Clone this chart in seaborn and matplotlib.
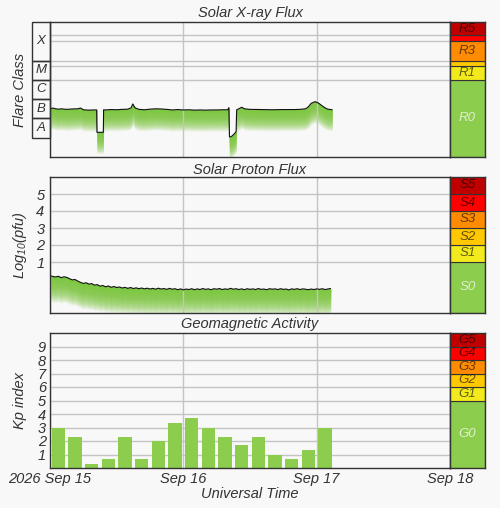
import numpy as np
import pandas as pd
import matplotlib
matplotlib.use("Agg")
import matplotlib.pyplot as plt
from matplotlib.patches import Rectangle
from matplotlib.ticker import NullLocator
import seaborn as sns

# ---------------- data ----------------
xray_hours = [0, 0.5, 1, 1.5, 2, 3, 4, 5, 5.5, 6, 7, 8, 8.4, 8.45, 9.6, 9.65, 10, 11, 12, 13,
              14, 14.6, 14.9, 15.3, 16, 17, 18, 19, 20, 21, 22, 23, 24, 25, 26, 27, 28, 29,
              30, 31, 32, 32.2, 32.3, 32.6, 33.0, 33.5, 33.6, 34, 34.5, 35, 36, 38, 40, 42,
              44, 45, 46, 46.5, 47, 47.7, 48.3, 49, 49.5, 50, 50.8]
xray_log_flux = [-6.52, -6.46, -6.50, -6.52, -6.50, -6.53, -6.51, -6.50, -6.46, -6.55, -6.57,
                 -6.56, -6.56, -7.72, -7.72, -6.55, -6.56, -6.54, -6.55, -6.53, -6.52, -6.45,
                 -6.25, -6.45, -6.53, -6.55, -6.52, -6.50, -6.51, -6.53, -6.56, -6.54, -6.56,
                 -6.55, -6.57, -6.56, -6.57, -6.56, -6.56, -6.55, -6.55, -6.44, -7.95, -7.95,
                 -7.85, -7.69, -6.55, -6.50, -6.42, -6.50, -6.53, -6.54, -6.55, -6.54, -6.54,
                 -6.53, -6.50, -6.40, -6.22, -6.13, -6.20, -6.35, -6.45, -6.52, -6.55]
xray_flux = [10 ** v for v in xray_log_flux]  # W/m^2

proton_hours = [i * 0.5 for i in range(102)]
proton_log = [0.20, 0.15, 0.12, 0.16, 0.08, 0.13, 0.10, 0.02, -0.05, -0.03, -0.12, -0.20,
              -0.26, -0.22, -0.30, -0.27, -0.36, -0.33, -0.42, -0.38, -0.46, -0.41, -0.49,
              -0.44, -0.50, -0.47, -0.53, -0.49, -0.55, -0.50, -0.56, -0.52, -0.57, -0.53,
              -0.58, -0.54, -0.59, -0.55, -0.60, -0.54, -0.59, -0.56, -0.61, -0.55, -0.60,
              -0.57, -0.63, -0.58, -0.64, -0.59, -0.62, -0.57, -0.63, -0.58, -0.62, -0.56,
              -0.61, -0.58, -0.63, -0.57, -0.60, -0.56, -0.62, -0.58, -0.61, -0.55, -0.60,
              -0.57, -0.62, -0.58, -0.63, -0.57, -0.61, -0.58, -0.62, -0.56, -0.61, -0.59,
              -0.63, -0.57, -0.60, -0.58, -0.62, -0.57, -0.61, -0.59, -0.64, -0.58, -0.61,
              -0.57, -0.62, -0.58, -0.60, -0.63, -0.59, -0.62, -0.58, -0.61, -0.57, -0.62,
              -0.59, -0.56]

kp_hours = [1.5, 4.5, 7.5, 10.5, 13.5, 16.5, 19.5, 22.5, 25.5, 28.5, 31.5, 34.5, 37.5,
            40.5, 43.5, 46.5, 49.5]
kp_values = [3.0, 2.33, 0.33, 0.67, 2.33, 0.67, 2.0, 3.33, 3.67, 3.0, 2.33, 1.67, 2.33,
             1.0, 0.67, 1.33, 3.0]

day_ticks = [0, 24, 48, 72]
day_labels = ["2026 Sep 15", "Sep 16", "Sep 17", "Sep 18"]

flare_classes = ["A", "B", "C", "M", "X"]
flare_bounds = [1e-8, 1e-7, 1e-6, 1e-5, 1e-4, 1e-2]

r_labels = ["R0", "R1", "", "R3", "", "R5"]
r_bounds = [1e-9, 1e-5, 5e-5, 1e-4, 1e-3, 2e-3, 1e-2]
s_labels = ["S0", "S1", "S2", "S3", "S4", "S5"]
s_bounds = [-2, 1, 2, 3, 4, 5, 6]
g_labels = ["G0", "G1", "G2", "G3", "G4", "G5"]
g_bounds = [0, 5, 6, 7, 8, 9, 10]
scale_colors = ["#8dcd4e", "#f2ea1c", "#ffc800", "#ff8c00", "#ff0000", "#c00000"]

titles = ["Solar X-ray Flux", "Solar Proton Flux", "Geomagnetic Activity"]

# ---------------- style ----------------
sns.set_theme(style="white")
BG = "#f8f8f8"
GREEN = "#7cc83c"
TXT = "#333333"
plt.rcParams["font.family"] = ["Liberation Sans", "DejaVu Sans"]
plt.rcParams["font.style"] = "italic"
plt.rcParams["mathtext.fontset"] = "custom"
plt.rcParams["mathtext.it"] = "Liberation Sans:italic"
plt.rcParams["mathtext.rm"] = "Liberation Sans:italic"
plt.rcParams["mathtext.default"] = "it"

fig = plt.figure(figsize=(5.0, 5.08), dpi=100, facecolor=BG)
W, H = 500.0, 508.0


def fig_rect(x0, x1, ytop, ybot):
    return [x0 / W, 1 - ybot / H, (x1 - x0) / W, (ybot - ytop) / H]


ax1 = fig.add_axes(fig_rect(50, 450, 22, 157))
sc1 = fig.add_axes(fig_rect(450, 485, 22, 157))
lb1 = fig.add_axes(fig_rect(32, 50, 22, 157))
ax2 = fig.add_axes(fig_rect(50, 450, 177, 313))
sc2 = fig.add_axes(fig_rect(450, 485, 177, 313))
ax3 = fig.add_axes(fig_rect(50, 450, 333, 468))
sc3 = fig.add_axes(fig_rect(450, 485, 333, 468))


def style_main(ax):
    ax.set_facecolor(BG)
    for s in ax.spines.values():
        s.set_color(TXT)
        s.set_linewidth(1.0)
        s.set_zorder(5)
    ax.set_xlim(0, 72)
    ax.set_xticks(day_ticks)
    ax.tick_params(axis="both", length=0, labelsize=10.5, colors=TXT)
    ax.grid(True, axis="both", color="#c4c4c4", lw=1.0, zorder=1.5)
    ax.set_axisbelow(False)
    ax.set_xlabel("")
    ax.set_ylabel("")


def gradient_fill(ax, x, top, depth, n=45, alpha=0.06, log=False):
    x = np.asarray(x, float)
    top = np.asarray(top, float)
    for k in range(1, n + 1):
        lo = top - depth * (k / n)
        if log:
            ax.fill_between(x, 10 ** lo, 10 ** top, color=GREEN, alpha=alpha, lw=0,
                            zorder=1, antialiased=False)
        else:
            ax.fill_between(x, lo, top, color=GREEN, alpha=alpha, lw=0, zorder=1,
                            antialiased=False)


def scale_box(ax, bounds, labels, log=False):
    ax.set_facecolor(BG)
    ax.set_xlim(0, 1)
    if log:
        ax.set_yscale("log")
        ax.yaxis.set_minor_locator(NullLocator())
    ax.set_ylim(bounds[0], bounds[-1])
    ax.set_xticks([])
    ax.set_yticks([])
    for s in ax.spines.values():
        s.set_color(TXT)
        s.set_linewidth(1.0)
    for i, lab in enumerate(labels):
        y0, y1 = bounds[i], bounds[i + 1]
        ax.add_patch(Rectangle((0, y0), 1, y1 - y0, facecolor=scale_colors[i],
                               edgecolor=TXT, lw=0.8))
        if lab:
            yc = np.sqrt(y0 * y1) if log else (y0 + y1) / 2
            col = "#eef4e6" if i == 0 else "#000000"
            al = 0.85 if i == 0 else 0.6
            ax.text(0.5, yc, lab, ha="center", va="center", fontsize=9.5,
                    color=col, alpha=al, style="italic")


# ---------------- panel 1: X-ray ----------------
ax1.set_yscale("log")
ax1.set_ylim(1e-9, 1e-2)
style_main(ax1)
ax1.set_yticks(r_bounds[1:-1])
ax1.yaxis.set_minor_locator(NullLocator())
ax1.set_yticklabels([])
ax1.set_xticklabels([])
gradient_fill(ax1, xray_hours, xray_log_flux, 1.1, log=True)
df_x = pd.DataFrame({"hours": xray_hours, "flux": xray_flux})
sns.lineplot(data=df_x, x="hours", y="flux", ax=ax1, color="#111111", lw=0.8,
             estimator=None, sort=False, zorder=3)
ax1.set_xlabel("")
ax1.set_ylabel("")

# flare class labels
lb1.set_yscale("log")
lb1.set_ylim(1e-9, 1e-2)
lb1.set_xlim(0, 1)
lb1.axis("off")
for i, c in enumerate(flare_classes):
    y0, y1 = flare_bounds[i], flare_bounds[i + 1]
    lb1.add_patch(Rectangle((0, y0), 1, y1 - y0, facecolor="none", edgecolor=TXT,
                            lw=1.0, clip_on=False))
    lb1.text(0.5, np.sqrt(y0 * y1), c, ha="center", va="center", fontsize=9.5,
             color=TXT, style="italic")

scale_box(sc1, r_bounds, r_labels, log=True)

# ---------------- panel 2: protons ----------------
ax2.set_ylim(-2, 6)
style_main(ax2)
ax2.set_yticks([1, 2, 3, 4, 5])
ax2.set_xticklabels([])
ax2.tick_params(axis="y", pad=4)
gradient_fill(ax2, proton_hours, proton_log, 1.5)
df_p = pd.DataFrame({"hours": proton_hours, "log_pfu": proton_log})
sns.lineplot(data=df_p, x="hours", y="log_pfu", ax=ax2, color="#111111", lw=0.8,
             estimator=None, sort=False, zorder=3)
ax2.set_xlabel("")
ax2.set_ylabel("")
scale_box(sc2, s_bounds, s_labels)

# ---------------- panel 3: Kp ----------------
df_k = pd.DataFrame({"hours": kp_hours, "kp": kp_values})
sns.barplot(data=df_k, x="hours", y="kp", ax=ax3, native_scale=True, color="#8dcd4e",
            saturation=1, width=0.8, zorder=2, linewidth=0)
ax3.set_ylim(0, 10)
style_main(ax3)
ax3.set_axisbelow(True)
ax3.set_yticks(range(1, 10))
ax3.set_xticklabels(day_labels)
ax3.tick_params(axis="y", pad=3)
ax3.tick_params(axis="x", pad=3)
for lab in ax3.get_xticklabels() + ax3.get_yticklabels() + ax2.get_yticklabels():
    lab.set_style("italic")
scale_box(sc3, g_bounds, g_labels)

# ---------------- texts ----------------
for t, y in zip(titles, [13.5, 170, 324]):
    fig.text(0.5, 1 - y / H, t, ha="center", va="center", fontsize=10.5, color=TXT,
             style="italic")
fig.text(0.5, 1 - 494 / H, "Universal Time", ha="center", va="center", fontsize=10.5,
         color=TXT, style="italic")
for lab, y in zip(["Flare Class", r"$Log_{10}(pfu)$", "Kp index"], [89.5, 245, 400.5]):
    fig.text(20 / W, 1 - y / H, lab, ha="center", va="center", rotation=90,
             fontsize=10.5, color=TXT, style="italic")

fig.savefig("out.png", dpi=100, facecolor=BG)
